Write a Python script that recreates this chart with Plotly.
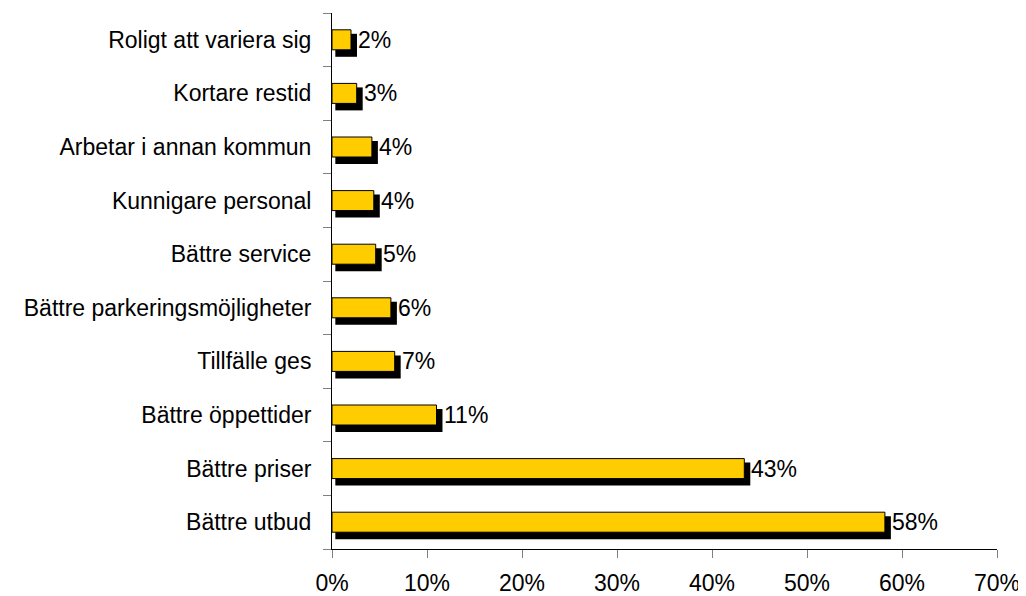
import plotly.graph_objects as go

categories = [
    "Bättre utbud",
    "Bättre priser",
    "Bättre öppettider",
    "Tillfälle ges",
    "Bättre parkeringsmöjligheter",
    "Bättre service",
    "Kunnigare personal",
    "Arbetar i annan kommun",
    "Kortare restid",
    "Roligt att variera sig",
]
values = [58.2, 43.4, 11.0, 6.6, 6.2, 4.6, 4.4, 4.2, 2.6, 2.0]
value_labels = [f"{round(v)}%" for v in values]
x_ticks = [0, 10, 20, 30, 40, 50, 60, 70]

FONT = "Liberation Sans, Arial, sans-serif"
YELLOW = "#FFCC00"
FS = 23

# shadow geometry (in data units)
shadow_base = 0.35
shadow_extra = 0.28

fig = go.Figure()
fig.add_trace(go.Bar(
    y=categories,
    x=[v + shadow_extra for v in values],
    base=shadow_base,
    orientation="h",
    marker=dict(color="black", line=dict(width=0)),
    offset=-0.317,
    width=0.429,
    hoverinfo="skip",
    showlegend=False,
))
fig.add_trace(go.Bar(
    y=categories,
    x=values,
    orientation="h",
    marker=dict(color=YELLOW, line=dict(color="black", width=1)),
    offset=-0.1865,
    width=0.373,
    showlegend=False,
))

for c, v, lab in zip(categories, values, value_labels):
    fig.add_annotation(
        x=v, y=c, text=lab, showarrow=False,
        xanchor="left", yanchor="middle", xshift=5,
        font=dict(family=FONT, size=FS, color="black"),
    )

# page body has an 8px default margin, so the figure is sized to fit the window
fig.update_layout(
    template="none",
    width=1018, height=588,
    margin=dict(l=324, r=29, t=5, b=47, pad=0),
    paper_bgcolor="white", plot_bgcolor="white",
    barmode="overlay",
    font=dict(family=FONT, size=FS, color="black"),
    xaxis=dict(
        range=[0, 70], tickvals=x_ticks, ticktext=[f"{t}%" for t in x_ticks],
        showgrid=False, zeroline=False, automargin=False,
        showline=True, linecolor="black", linewidth=1,
        ticks="outside", ticklen=8, tickcolor="#808080", tickwidth=1,
        ticklabelstandoff=5,
        tickfont=dict(family=FONT, size=FS, color="black"),
        fixedrange=True,
    ),
    yaxis=dict(
        type="category", categoryorder="array", categoryarray=categories,
        range=[-0.5, 9.5], automargin=False,
        showgrid=False, zeroline=False,
        showline=True, linecolor="black", linewidth=1,
        ticks="outside", ticklen=8, tickcolor="#808080", tickwidth=1,
        tickson="boundaries", ticklabelstandoff=15,
        tickfont=dict(family=FONT, size=FS, color="black"),
        fixedrange=True,
    ),
)

fig.write_html("out.html")
